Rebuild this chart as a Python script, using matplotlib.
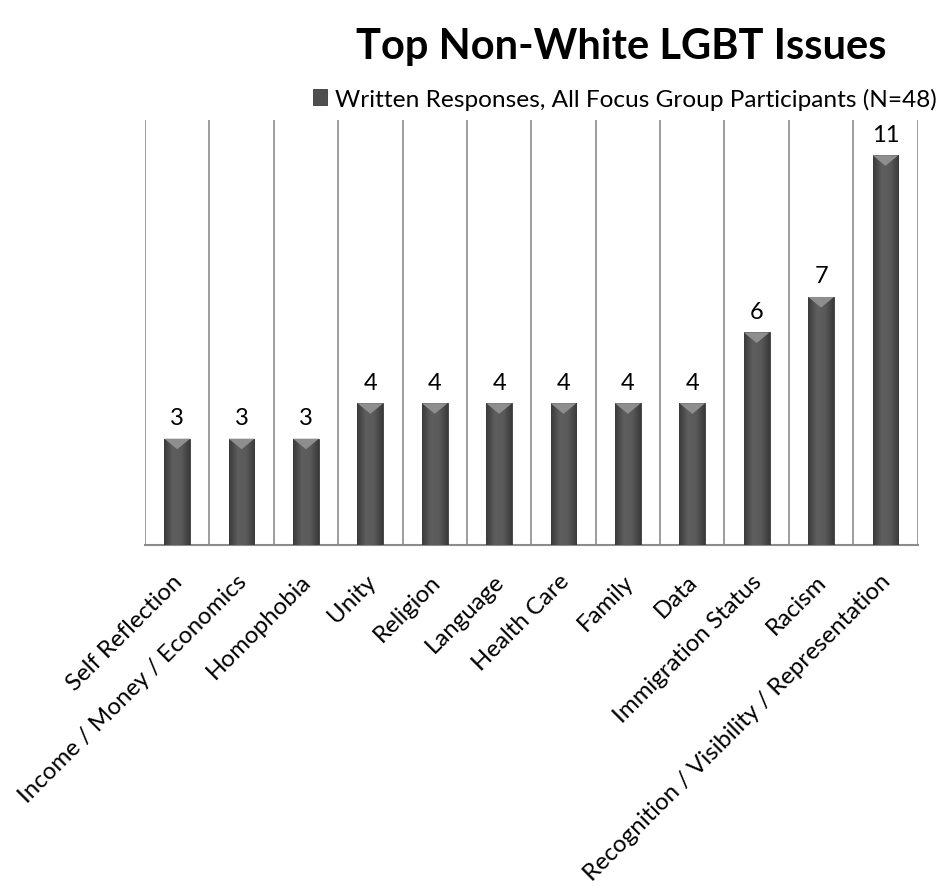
import matplotlib
matplotlib.use("Agg")
import matplotlib.pyplot as plt
import numpy as np
from matplotlib.colors import LinearSegmentedColormap
from matplotlib.patches import Polygon
from matplotlib.transforms import ScaledTranslation

categories = [
    "Self Reflection",
    "Income / Money / Economics",
    "Homophobia",
    "Unity",
    "Religion",
    "Language",
    "Health Care",
    "Family",
    "Data",
    "Immigration Status",
    "Racism",
    "Recognition / Visibility / Representation",
]
counts = [3, 3, 3, 4, 4, 4, 4, 4, 4, 6, 7, 11]
series_name = "Written Responses, All Focus Group Participants (N=48)"

plt.rcParams["font.family"] = ["Lato", "DejaVu Sans"]

fig = plt.figure(figsize=(9.38, 8.95), dpi=100)
ax = fig.add_axes([0.1546, 0.39, 0.8237, 0.475])

x = np.arange(len(categories))
width = 0.4
bars = ax.bar(x, counts, width=width, color="#4f4f4f", edgecolor="#3a3a3a",
              linewidth=0.6, zorder=3, label=series_name)

ax.set_xlim(-0.5, len(categories) - 0.5)
ax.set_ylim(0, 12)

# horizontal shading across each bar, darker at the edges
shade = LinearSegmentedColormap.from_list("shade", ["#3a3a3a", "#5e5e5e", "#5a5a5a", "#3a3a3a"])
grad = np.linspace(0, 1, 64).reshape(1, -1)
for bar in bars:
    x0, w, h = bar.get_x(), bar.get_width(), bar.get_height()
    im = ax.imshow(grad, extent=[x0, x0 + w, 0, h], cmap=shade, aspect="auto", zorder=3.5)
    im.set_clip_path(bar)

# bevel highlight on bar tops
for xi, v in zip(x, counts):
    tri = Polygon([(xi - width / 2, v), (xi + width / 2, v), (xi, v - 0.3)],
                  closed=True, facecolor="#8e8e8e", edgecolor="none", zorder=4)
    ax.add_patch(tri)
    ax.text(xi, v + 0.3, str(v), ha="center", va="bottom", fontsize=17, color="black")

ax.set_yticks([])
for b in np.arange(-0.5, len(categories) + 0.5, 1):
    ax.axvline(b, color="#8c8c8c", linewidth=1.2, zorder=1)

for side in ["top", "right", "left"]:
    ax.spines[side].set_visible(False)
ax.spines["bottom"].set_color("#8c8c8c")
ax.spines["bottom"].set_linewidth(1.5)

ax.set_xticks(x)
ax.set_xticklabels(categories, rotation=45, ha="right", rotation_mode="anchor", fontsize=17.3)
ax.tick_params(axis="x", length=0, pad=18)
shift = ScaledTranslation(-4 / 72, 0, fig.dpi_scale_trans)
for lbl in ax.get_xticklabels():
    lbl.set_transform(lbl.get_transform() + shift)

fig.text(0.662, 0.948, "Top Non-White LGBT Issues", ha="center", va="center",
         fontsize=30, fontweight="bold")

ax.legend(loc="lower right", bbox_to_anchor=(1.04, 0.995), frameon=False, fontsize=17.6,
          handlelength=0.6, handleheight=0.6, handletextpad=0.3, borderaxespad=0.1)

fig.savefig("out.png", dpi=100)
